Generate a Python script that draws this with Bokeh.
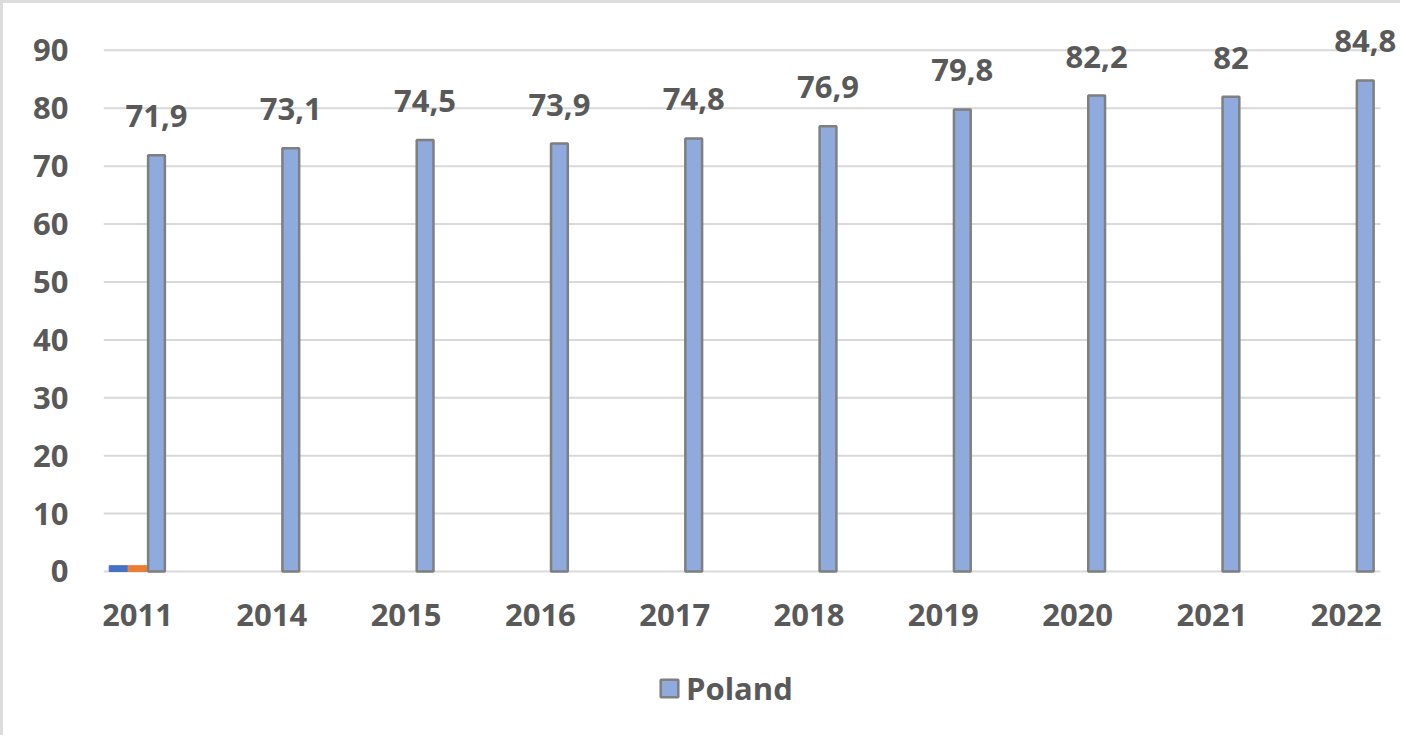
from bokeh.plotting import figure
from bokeh.models import ColumnDataSource, FixedTicker, Legend, LegendItem, Range1d, LabelSet
from bokeh.transform import dodge
from bokeh.embed import file_html
from bokeh.resources import INLINE
from bokeh.core.properties import value

# ---- data ----
years = ["2011", "2014", "2015", "2016", "2017", "2018", "2019", "2020", "2021", "2022"]
poland = [71.9, 73.1, 74.5, 73.9, 74.8, 76.9, 79.8, 82.2, 82.0, 84.8]
series_blue = [1.0, 0, 0, 0, 0, 0, 0, 0, 0, 0]
series_orange = [1.0, 0, 0, 0, 0, 0, 0, 0, 0, 0]
y_ticks = [0, 10, 20, 30, 40, 50, 60, 70, 80, 90]

FONT = "Open Sans"
GREY = "#595959"
GRID = "#d9d9d9"
FS = "31px"

idx = list(range(len(years)))
labels = [f"{v:g}".replace(".", ",") for v in poland]
src = ColumnDataSource(dict(x=idx, poland=poland, label=labels,
                            year=years, zero=[0] * len(years)))
blue_src = ColumnDataSource(dict(x=[i for i, v in zip(idx, series_blue) if v],
                                 v=[v for v in series_blue if v]))
orange_src = ColumnDataSource(dict(x=[i for i, v in zip(idx, series_orange) if v],
                                   v=[v for v in series_orange if v]))

# plot-area extent (category units); a little room is left on the right for the last label
x_lo, x_hi = -0.253, len(years) - 1 + 0.255
p = figure(width=1400, height=735, output_backend="svg", toolbar_location=None,
           x_range=Range1d(x_lo, x_hi + 0.149), y_range=Range1d(-27.98, 95.85),
           min_border_left=100, min_border_right=3, min_border_top=13, min_border_bottom=5)
p.styles = {"border-top": "3px solid #dcdcdc", "border-left": "3px solid #dcdcdc"}
p.outline_line_color = None
p.background_fill_color = "white"
p.border_fill_color = "white"

# horizontal gridlines limited to the plot area
grid_src = ColumnDataSource(dict(y=y_ticks, x0=[x_lo] * len(y_ticks), x1=[x_hi] * len(y_ticks)))
p.segment(x0="x0", x1="x1", y0="y", y1="y", source=grid_src, line_color=GRID, line_width=2)

off = 0.1415
bw = 0.138
p.vbar(x=dodge("x", -off, range=p.x_range), top="v", width=bw, source=blue_src,
       fill_color="#4472C4", line_color="#4472C4", line_width=1)
p.vbar(x=dodge("x", 0, range=p.x_range), top="v", width=bw, source=orange_src,
       fill_color="#ED7D31", line_color="#ED7D31", line_width=1)
pol = p.vbar(x=dodge("x", off, range=p.x_range), top="poland", width=0.125, source=src,
             fill_color="#8FAADC", line_color="#7F7F7F", line_width=2.5)

# data labels
p.add_layout(LabelSet(x=dodge("x", off, range=p.x_range), y="poland", text="label", source=src,
                      text_align="center", text_baseline="middle", y_offset=39,
                      text_font=value(FONT), text_font_style="bold", text_font_size=value(FS),
                      text_color=GREY))
# category labels (x axis)
p.add_layout(LabelSet(x="x", y="zero", text="year", source=src,
                      text_align="center", text_baseline="middle", y_offset=-44,
                      text_font=value(FONT), text_font_style="bold", text_font_size=value(FS),
                      text_color=GREY))

p.xaxis.visible = False
p.yaxis.ticker = FixedTicker(ticks=y_ticks)
p.yaxis.axis_line_color = None
p.yaxis.major_tick_line_color = None
p.yaxis.minor_tick_line_color = None
p.yaxis.major_label_standoff = 29
p.yaxis.major_label_text_font = FONT
p.yaxis.major_label_text_font_style = "bold"
p.yaxis.major_label_text_font_size = FS
p.yaxis.major_label_text_color = GREY

p.xgrid.grid_line_color = None
p.ygrid.grid_line_color = None

legend = Legend(items=[LegendItem(label="Poland", renderers=[pol])],
                location=(555, 24), orientation="horizontal",
                glyph_width=22, glyph_height=22, label_standoff=6,
                padding=0, margin=0, spacing=0,
                label_text_font=FONT, label_text_font_style="bold",
                label_text_font_size=FS, label_text_color=GREY,
                border_line_color=None, background_fill_alpha=0)
p.add_layout(legend, "center")

open("out.html", "w").write(file_html(p, INLINE))
